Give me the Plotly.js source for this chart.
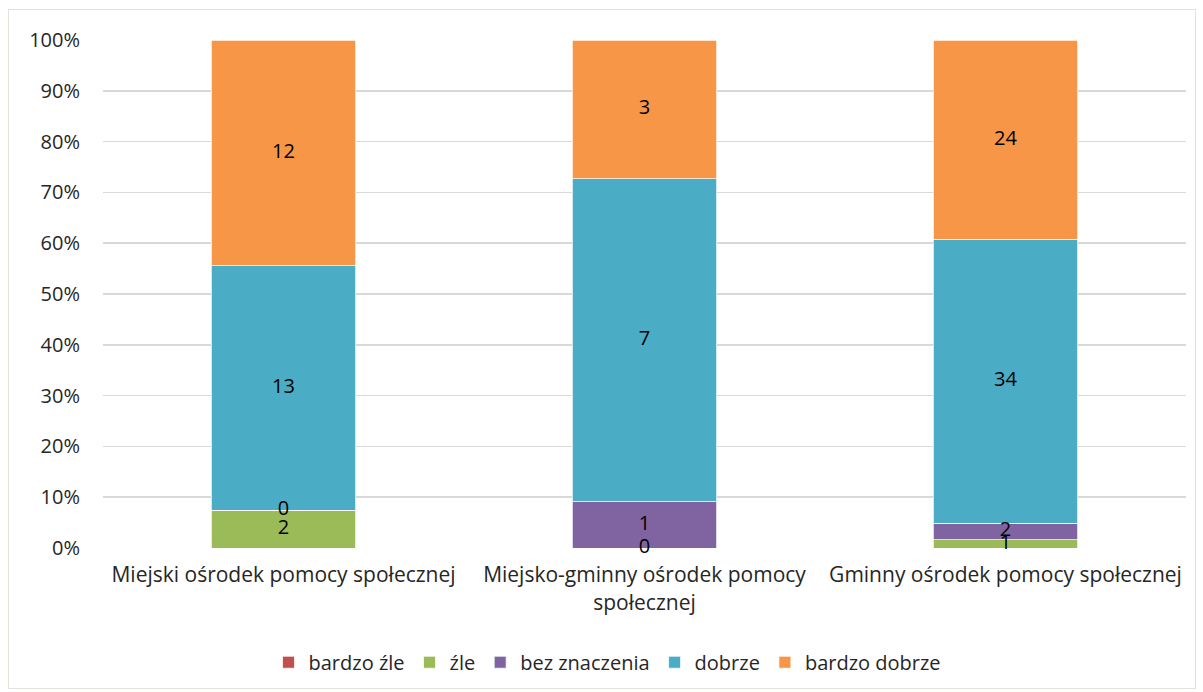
<!DOCTYPE html>
<html>
<head>
<meta charset="utf-8">
<script src="https://cdn.plot.ly/plotly-3.0.1.min.js"></script>
<style>
  html, body { margin: 0; padding: 0; background: #fff; }
  #wrap { position: relative; width: 1203px; height: 692px; }
  #chart { width: 1203px; height: 692px; }
  #frame { position: absolute; left: 8px; top: 9px; width: 1186px; height: 678px;
           border: 1px solid #e3e3dc; pointer-events: none; }
</style>
</head>
<body>
<div id="wrap">
  <div id="chart"></div>
  <div id="frame"></div>
</div>
<script>
const categories = [
  "Miejski ośrodek pomocy społecznej",
  "Miejsko-gminny ośrodek pomocy<br>społecznej",
  "Gminny ośrodek pomocy społecznej"
];
const seriesNames = ["bardzo źle", "źle", "bez znaczenia", "dobrze", "bardzo dobrze"];
const bardzoZle = [null, null, null];
const zle = [2, 0, 1];
const bezZnaczenia = [0, 1, 2];
const dobrze = [13, 7, 34];
const bardzoDobrze = [12, 3, 24];
const colors = ["#C0504D", "#9BBB59", "#8064A2", "#4BACC6", "#F79646"];

const series = [bardzoZle, zle, bezZnaczenia, dobrze, bardzoDobrze];
const FONT = "'Open Sans', 'Liberation Sans', sans-serif";
const FS = 20;

const traces = series.map((vals, i) => ({
  type: "bar",
  name: seriesNames[i],
  x: categories,
  y: vals,
  marker: { color: colors[i], line: { color: "#ffffff", width: 0.75 } },
  hoverinfo: "skip"
}));

// data labels (raw counts) at the centre of each normalised segment
const totals = categories.map((_, c) => series.reduce((s, v) => s + (v[c] || 0), 0));
const lx = [], ly = [], lt = [];
categories.forEach((cat, c) => {
  let cum = 0;
  series.forEach(vals => {
    const v = vals[c];
    if (v === null || v === undefined) return;
    const pct = v / totals[c] * 100;
    lx.push(cat); ly.push(cum + pct / 2); lt.push(String(v));
    cum += pct;
  });
});
traces.push({
  type: "scatter", mode: "text", x: lx, y: ly, text: lt,
  textposition: "middle center",
  textfont: { family: FONT, size: FS, color: "#000000" },
  showlegend: false, hoverinfo: "skip", cliponaxis: false
});

const layout = {
  width: 1203, height: 692,
  margin: { l: 103, r: 17, t: 40, b: 144 },
  paper_bgcolor: "#ffffff", plot_bgcolor: "#ffffff",
  barmode: "stack", barnorm: "percent", bargap: 0.6,
  font: { family: FONT, size: FS, color: "#262626" },
  showlegend: true,
  legend: {
    orientation: "h", xref: "container", yref: "container",
    x: 0.505, xanchor: "center", y: 0.043, yanchor: "middle",
    font: { family: FONT, size: FS, color: "#262626" },
    traceorder: "normal", itemwidth: 30
  },
  xaxis: {
    type: "category", showgrid: false, zeroline: false, showline: false,
    ticks: "outside", ticklen: 8, tickcolor: "rgba(0,0,0,0)",
    tickfont: { family: FONT, size: 21, color: "#262626" }
  },
  yaxis: {
    range: [0, 100], dtick: 10, ticksuffix: "%",
    showgrid: true, gridcolor: "#d9d9d9", gridwidth: 1.5,
    zeroline: false, showline: false,
    ticks: "outside", ticklen: 18, tickcolor: "rgba(0,0,0,0)",
    tickfont: { family: FONT, size: FS, color: "#262626" }
  }
};

Plotly.newPlot("chart", traces, layout, { displayModeBar: false, staticPlot: true });
</script>
</body>
</html>
